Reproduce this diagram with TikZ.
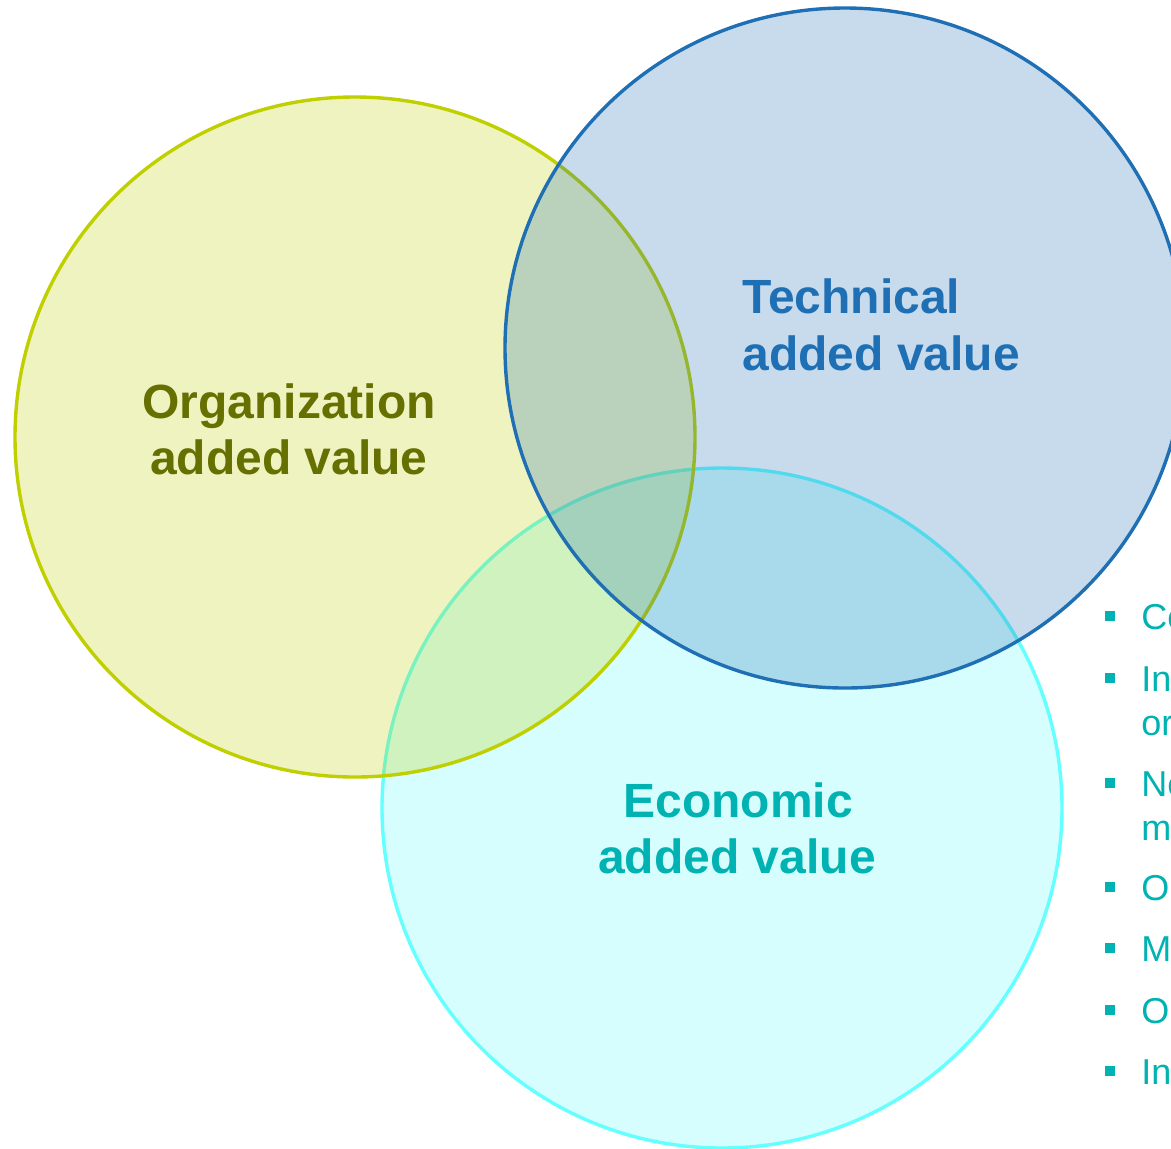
\documentclass[tikz,border=0pt]{standalone}
\usepackage{fontspec}
\setmainfont{Liberation Sans}
\definecolor{orgline}{RGB}{191,207,0}
\definecolor{orgtext}{RGB}{102,112,0}
\definecolor{techline}{RGB}{31,111,181}
\definecolor{ecoline}{RGB}{100,255,255}
\definecolor{ecofill}{RGB}{214,254,254}
\definecolor{ecotext}{RGB}{0,178,178}
\begin{document}
\begin{tikzpicture}[x=0.5pt,y=-0.5pt,
  ring/.style={line width=1.7pt},
  bigtext/.style={font=\fontsize{24}{28.8}\selectfont\bfseries, inner sep=0pt},
  itemtext/.style={font=\fontsize{18}{21.6}\selectfont, text=ecotext, inner sep=0pt, anchor=base west},
  bulletsq/.style={fill=ecotext, minimum size=5pt, inner sep=0pt}]
\useasboundingbox (0,0) rectangle (1171,1148);
% circles: economic at bottom, organization in middle, technical on top
\draw[ring, draw=ecoline, fill=ecofill] (722,808) circle [radius=170pt];
\draw[ring, draw=orgline, fill=orgline, fill opacity=0.25] (355,437) circle [radius=170pt];
\draw[ring, draw=techline, fill=techline, fill opacity=0.25] (845,348) circle [radius=170pt];
% labels
\node[bigtext, text=orgtext, anchor=base] (org1) at (289,418) {Organization};
\node[bigtext, text=orgtext, anchor=base] (org2) at (289,474) {added value};
\node[bigtext, text=techline, anchor=base west] (tech1) at (742,313) {Technical};
\node[bigtext, text=techline, anchor=base west] (tech2) at (742,370) {added value};
\node[bigtext, text=ecotext, anchor=base] (eco1) at (738,817) {Economic};
\node[bigtext, text=ecotext, anchor=base] (eco2) at (737,873) {added value};
% bullet list (cut off by the right edge)
\node[bulletsq] (b1) at (1110,616) {};
\node[bulletsq] (b2) at (1110,678) {};
\node[bulletsq] (b3) at (1110,783) {};
\node[bulletsq] (b4) at (1110,887) {};
\node[bulletsq] (b5) at (1110,948) {};
\node[bulletsq] (b6) at (1110,1010) {};
\node[bulletsq] (b7) at (1110,1071) {};
\node[itemtext] (t1) at (1141,629) {Co};
\node[itemtext] (t2) at (1141,691) {In};
\node[itemtext] (t2b) at (1141,735) {or};
\node[itemtext] (t3) at (1141,796) {Ne};
\node[itemtext] (t3b) at (1141,840) {m};
\node[itemtext] (t4) at (1141,900) {O};
\node[itemtext] (t5) at (1141,961) {M};
\node[itemtext] (t6) at (1141,1023) {O};
\node[itemtext] (t7) at (1141,1084) {In};
\end{tikzpicture}
\end{document}
